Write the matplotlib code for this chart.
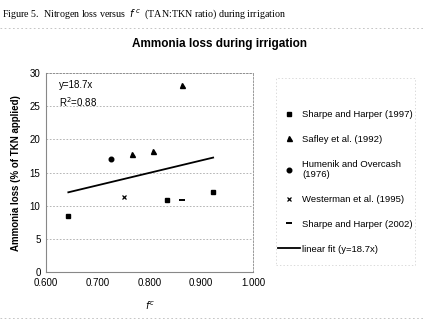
import matplotlib
matplotlib.use("Agg")
import matplotlib.pyplot as plt
from matplotlib.patches import Rectangle
import numpy as np

# ratio f^c (TAN:TKN) and ammonia loss (% of TKN applied), per study
sharpe97_x = [0.643, 0.834, 0.923]
sharpe97_y = [8.5, 10.9, 12.1]
safley_x = [0.767, 0.806, 0.863]
safley_y = [17.8, 18.2, 28.2]
humenik_x = [0.726]
humenik_y = [17.1]
westerman_x = [0.751]
westerman_y = [11.3]
sharpe02_x = [0.862]
sharpe02_y = [10.9]

slope = 18.7
fit_x = [0.643, 0.923]

xticks = [0.6, 0.7, 0.8, 0.9, 1.0]
yticks = [0, 5, 10, 15, 20, 25, 30]

plt.rcParams["font.family"] = ["Liberation Sans", "DejaVu Sans"]

fig = plt.figure(figsize=(4.23, 3.25), dpi=100)
ax = fig.add_axes([0.109, 0.163, 0.489, 0.612])

ms = 3.0
ax.plot(sharpe97_x, sharpe97_y, ls="none", marker="s", ms=ms, color="black",
        label="Sharpe and Harper (1997)")
ax.plot(safley_x, safley_y, ls="none", marker="^", ms=ms + 0.6, color="black",
        label="Safley et al. (1992)")
ax.plot(humenik_x, humenik_y, ls="none", marker="o", ms=ms + 0.3, color="black",
        label="Humenik and Overcash\n(1976)")
ax.plot(westerman_x, westerman_y, ls="none", marker="x", ms=ms, mew=0.9,
        color="black", label="Westerman et al. (1995)")
ax.plot(sharpe02_x, sharpe02_y, ls="none", marker="_", ms=ms + 1, mew=1.4,
        color="black", label="Sharpe and Harper (2002)")
fx = np.array(fit_x)
ax.plot(fx, slope * fx, color="black", lw=1.3, label="linear fit (y=18.7x)")

ax.set_xlim(0.6, 1.0)
ax.set_ylim(0, 30)
ax.set_xticks(xticks)
ax.set_xticklabels([f"{v:.3f}" for v in xticks])
ax.set_yticks(yticks)
ax.tick_params(labelsize=7, length=0, pad=4)
ax.grid(axis="y", color="#aaaaaa", ls=(0, (2, 2)), lw=0.6)
ax.set_axisbelow(True)
for s in ["top", "right"]:
    ax.spines[s].set_color("#888888")
    ax.spines[s].set_linestyle((0, (2, 2)))
    ax.spines[s].set_linewidth(0.6)
for s in ["left", "bottom"]:
    ax.spines[s].set_color("#888888")
    ax.spines[s].set_linewidth(0.8)

ax.set_ylabel("Ammonia loss (% of TKN applied)", fontsize=7, fontweight="bold",
              labelpad=6)
ax.set_xlabel("$f^c$", fontsize=7, labelpad=9)
ax.text(0.06, 0.965, "y=18.7x\nR$^2$=0.88", transform=ax.transAxes,
        fontsize=7, va="top", linespacing=1.4)

fig.text(0.518, 0.856, "Ammonia loss during irrigation", fontsize=8.5,
         fontweight="bold", ha="center")
fig.text(0.005, 0.978, "Figure 5.  Nitrogen loss versus  $f^{\\,c}$  (TAN:TKN ratio) during irrigation",
         fontsize=7.2, family=["Liberation Serif", "DejaVu Serif"], va="top")

# faint scanned borders of the chart object
fig.add_artist(plt.Line2D([0.0, 1.0], [0.913, 0.913], color="#bbbbbb", lw=0.6,
                          ls=(0, (2, 3)), transform=fig.transFigure))
fig.add_artist(plt.Line2D([0.0, 1.0], [0.022, 0.022], color="#bbbbbb", lw=0.6,
                          ls=(0, (2, 3)), transform=fig.transFigure))
fig.add_artist(Rectangle((276 / 423, 1 - 265 / 325), 139 / 423, 187 / 325,
                         transform=fig.transFigure, fill=False,
                         edgecolor="#cccccc", lw=0.5, ls=(0, (2, 3))))

leg = ax.legend(loc="upper left", bbox_to_anchor=(1.121, 0.815), fontsize=6.8,
                frameon=False, labelspacing=1.68, handlelength=2.3,
                handletextpad=0.25, borderpad=0, borderaxespad=0)

fig.savefig("out.png", dpi=100)
